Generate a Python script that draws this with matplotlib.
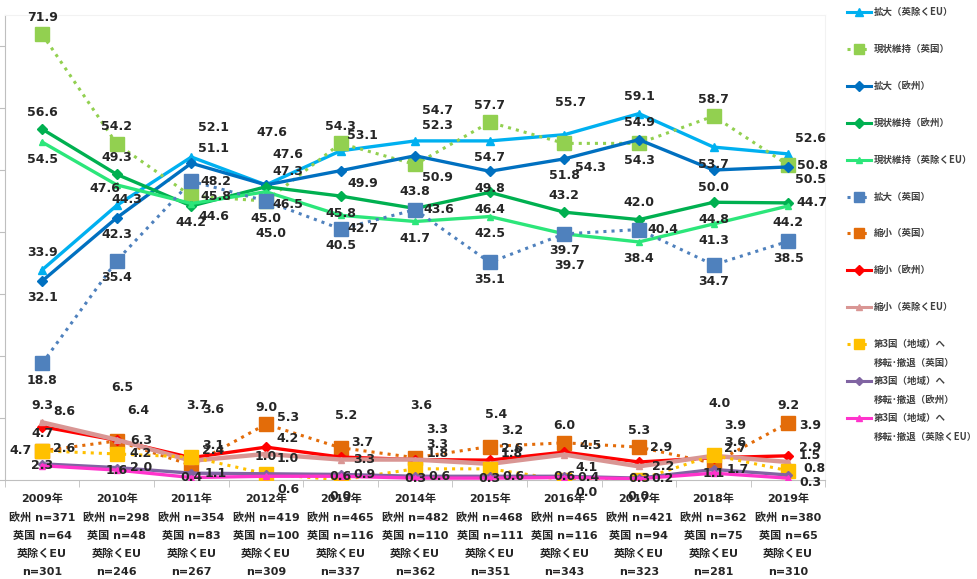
import numpy as np
import matplotlib.pyplot as plt
from matplotlib.lines import Line2D

plt.rcParams['font.family'] = ['DejaVu Sans', 'Noto Sans CJK JP']

# 年とサンプル数
years = ['2009年', '2010年', '2011年', '2012年', '2013年', '2014年',
         '2015年', '2016年', '2017年', '2018年', '2019年']
n_eu = [371, 298, 354, 419, 465, 482, 468, 465, 421, 362, 380]
n_uk = [64, 48, 83, 100, 116, 110, 111, 116, 94, 75, 65]
n_ex = [301, 246, 267, 309, 337, 362, 351, 343, 323, 281, 310]

# 各系列の値 (%)
expand_ex = [33.9, 44.3, 52.1, 47.6, 53.1, 54.7, 54.7, 55.7, 59.1, 53.7, 52.6]
keep_uk = [71.9, 54.2, 45.8, 45.0, 54.3, 50.9, 57.7, 54.3, 54.3, 58.7, 50.8]
expand_eu = [32.1, 42.3, 51.1, 47.6, 49.9, 52.3, 49.8, 51.8, 54.9, 50.0, 50.5]
keep_eu = [56.6, 49.3, 44.2, 47.3, 45.8, 43.8, 46.4, 43.2, 42.0, 44.8, 44.7]
keep_ex = [54.5, 47.6, 44.6, 46.5, 42.7, 41.7, 42.5, 39.7, 38.4, 41.3, 44.2]
expand_uk = [18.8, 35.4, 48.2, 45.0, 40.5, 43.6, 35.1, 39.7, 40.4, 34.7, 38.5]
shrink_uk = [4.7, 6.3, 2.4, 9.0, 5.2, 3.6, 5.4, 6.0, 5.3, 2.7, 9.2]
shrink_eu = [8.6, 6.4, 3.6, 5.3, 3.7, 3.3, 3.2, 4.5, 2.9, 3.6, 3.9]
shrink_ex = [9.3, 6.5, 3.1, 4.2, 3.3, 3.3, 2.6, 4.1, 2.2, 3.9, 2.9]
move_uk = [4.7, 4.2, 3.7, 1.0, 0.0, 1.8, 1.8, 0.0, 0.0, 4.0, 1.5]
move_eu = [2.6, 2.0, 1.1, 1.0, 0.9, 0.6, 0.6, 0.6, 0.3, 1.7, 0.8]
move_ex = [2.3, 1.6, 0.4, 0.6, 0.6, 0.3, 0.3, 0.4, 0.2, 1.1, 0.3]

# ラベル位置 (ピクセル単位のずれ)
offs = {'a': (0, 17), 'aa': (6, 32), 'A': (6, 52), 'b': (0, -17), 'bb': (5, -32),
        'r': (24, 0), 'l': (-22, 0), 'ar': (22, 15), 'aR': (22, 30), 'AR': (22, 48),
        'br': (22, -13), 'bR': (26, -24), 'bl': (-12, -4), 'rs': (10, 6),
        'rr': (26, 7), 'rl': (22, -4), 'c': (0, 0)}

series = [
    ('拡大（英除くEU）', expand_ex, '#00B0F0', '-', '^', 6,
     ['a', 'rs', 'aR', 'A', 'ar', 'aR', 'b', 'aa', 'a', 'b', 'ar']),
    ('現状維持（英国）', keep_uk, '#92D050', ':', 's', 10,
     ['a', 'a', 'r', 'b', 'a', 'br', 'a', 'bR', 'b', 'a', 'r']),
    ('拡大（欧州）', expand_eu, '#0070C0', '-', 'D', 5,
     ['b', 'b', 'ar', 'aR', 'br', 'aR', 'b', 'b', 'a', 'b', 'br']),
    ('現状維持（欧州）', keep_eu, '#00B050', '-', 'D', 5,
     ['a', 'a', 'b', 'ar', 'b', 'a', 'b', 'a', 'a', 'b', 'r']),
    ('現状維持（英除くEU）', keep_ex, '#2CE67A', '-', '^', 5,
     ['b', 'bl', 'br', 'br', 'br', 'b', 'b', 'bb', 'b', 'b', 'b']),
    ('拡大（英国）', expand_uk, '#4F81BD', ':', 's', 10,
     ['b', 'b', 'r', 'bb', 'b', 'r', 'b', 'b', 'r', 'b', 'b']),
    ('縮小（英国）', shrink_uk, '#E36C09', ':', 's', 10,
     ['a', 'r', 'ar', 'a', 'aa', 'A', 'aa', 'a', 'a', 'ar', 'a']),
    ('縮小（欧州）', shrink_eu, '#FF0000', '-', 'D', 5,
     ['ar', 'aR', 'AR', 'aR', 'ar', 'aR', 'aR', 'rr', 'ar', 'ar', 'aR']),
    ('縮小（英除くEU）', shrink_ex, '#D99694', '-', '^', 5,
     ['a', 'A', 'ar', 'ar', 'r', 'ar', 'ar', 'br', 'r', 'aR', 'ar']),
    ('第3国（地域）へ\n移転･撤退（英国）', move_uk, '#FFC000', ':', 's', 10,
     ['l', 'r', 'A', 'a', 'b', 'ar', 'ar', 'br', 'b', 'A', 'ar']),
    ('第3国（地域）へ\n移転･撤退（欧州）', move_eu, '#8064A2', '-', 'D', 4,
     ['ar', 'r', 'r', 'ar', 'r', 'r', 'r', 'c', 'c', 'r', 'rr']),
    ('第3国（地域）へ\n移転･撤退（英除くEU）', move_ex, '#FF33CC', '-', '^', 5,
     ['c', 'c', 'c', 'br', 'c', 'c', 'c', 'r', 'r', 'c', 'rl']),
]

fig = plt.figure(figsize=(9.78, 5.79), dpi=100)
ax = fig.add_axes([0.005, 0.171, 0.839, 0.803])
x = np.arange(len(years))

for name, vals, col, ls, mk, ms, pos in series:
    lw = 2.2 if ls == ':' else 2.4
    if name.startswith('縮小（英除く'):
        lw = 3.2
    ax.plot(x, vals, color=col, linestyle=ls, lw=lw, marker=mk, markersize=ms,
            markeredgecolor=col, zorder=3)

for name, vals, col, ls, mk, ms, pos in series:
    for i, v in enumerate(vals):
        dx, dy = offs[pos[i]]
        ax.annotate(f'{v:.1f}', (x[i], v), xytext=(dx, dy), textcoords='offset pixels',
                    ha='center', va='center', fontsize=9, fontweight='bold',
                    color='#262626', zorder=5)

ax.set_xlim(-0.5, len(years) - 0.5)
ax.set_ylim(0, 75)
ax.set_yticks(np.arange(0, 71, 10))
ax.set_yticklabels([])
ax.set_xticks(x)
ax.set_xticks(np.arange(-0.5, len(years), 1), minor=True)
ax.set_xticklabels([f'{y}\n欧州 n={a}\n英国 n={b}\n英除くEU\nn={c}'
                    for y, a, b, c in zip(years, n_eu, n_uk, n_ex)],
                   fontsize=8, fontweight='bold', color='#262626', linespacing=1.95)
ax.tick_params(axis='x', which='major', length=0, pad=10)
ax.tick_params(axis='x', which='minor', length=5, color='#BFBFBF')
ax.tick_params(axis='y', length=5, color='#BFBFBF', direction='out')
for s in ['left', 'bottom']:
    ax.spines[s].set_color('#BFBFBF')
for s in ['top', 'right']:
    ax.spines[s].set_color('#F2F2F2')

# 凡例 (右側に手作り)
W, H = 978, 579
for k, (name, vals, col, ls, mk, ms, pos) in enumerate(series):
    yc = 1 - (12 + 36.9 * k) / H
    x0, x1 = 847 / W, 871 / W
    ax_line = Line2D([x0, (x0 + x1) / 2, x1], [yc, yc, yc], transform=fig.transFigure,
                     color=col, linestyle=ls, lw=2.2, marker=mk, markevery=[1],
                     markersize=min(ms, 7), markeredgecolor=col)
    fig.add_artist(ax_line)
    lines = name.split('\n')
    for j, t in enumerate(lines):
        fig.text(874 / W, yc - j * 19 / H, t, ha='left', va='center', fontsize=6.8,
                 fontweight='bold', color='#404040',
                 family=['Noto Sans CJK JP', 'DejaVu Sans'])

fig.savefig('out.png', dpi=100)
